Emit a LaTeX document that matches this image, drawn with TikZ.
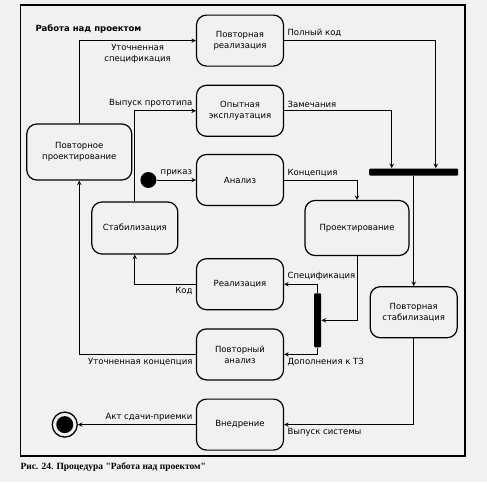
\documentclass[tikz,border=0pt]{standalone}
\usepackage{fontspec}
\setmainfont{DejaVu Sans}
\newfontfamily\captionfont{Liberation Serif}
\usepackage{tikz}
\usetikzlibrary{positioning}
\definecolor{paper}{RGB}{241,241,241}

\begin{document}
\begin{tikzpicture}[x=1pt,y=1pt,>=stealth,line width=1pt,inner sep=3pt,
      font=\fontsize{8.5}{11}\selectfont,
      state node/.style={rectangle,rounded corners=10pt,draw,line width=1.2pt,align=center,
        minimum width=87pt,minimum height=51pt},
      bar node/.style={rectangle,fill,rounded corners=1pt,inner sep=0pt},
      hv path/.style={to path={-| (\tikztotarget) \tikztonodes}},
      vh path/.style={to path={|- (\tikztotarget) \tikztonodes}}]
      \fill[paper] (0,0) rectangle (487,-482);
      \useasboundingbox (0,0) rectangle (487,-482);
      \draw[line width=1.2pt] (20.5,-5) rectangle (465,-456);
      \node[anchor=west,font=\bfseries\fontsize{8.5}{11}\selectfont] (title) at (32,-29) {Работа над проектом};
      \node[anchor=west,font=\captionfont\bfseries\fontsize{9.5}{11}\selectfont] (caption) at (17,-467)
        {Рис. 24. Процедура "Работа над проектом"};

      \node[state node] (anal) at (240,-180) {Анализ};
      \node[state node] (trial) [above=17pt of anal] {Опытная\\эксплуатация};
      \node[state node] (reimpl) [above=18pt of trial] {Повторная\\реализация};
      \node[state node] (impl) [below=52pt of anal] {Реализация};
      \node[state node] (reanal) [below=18pt of impl] {Повторный\\анализ};
      \node[state node] (deploy) [below=18pt of reanal] {Внедрение};
      \node[state node,minimum width=86pt,minimum height=52pt] (stab) [above left=3.5pt and 17.5pt of impl] {Стабилизация};
      \node[state node,minimum width=104pt,minimum height=55pt] (design) [right=126pt of stab] {Проектирование};
      \node[state node,minimum width=105pt,minimum height=56pt] (repdes) [below left=-13.5pt and 63.5pt of trial] {Повторное\\проектирование};
      \node[state node] (restab) [below right=30pt and -40pt of design] {Повторная\\стабилизация};
      \node[bar node,minimum width=89pt,minimum height=7pt] (fork) [above=110pt of restab] {};
      \node[bar node,minimum width=7pt,minimum height=54pt] (join) [below right=-17.5pt and 29.5pt of impl] {};
      \node[circle,fill,minimum size=16pt,inner sep=0pt] (init) [left=39pt of anal] {};
      \node[circle,draw,line width=1.3pt,minimum size=25pt,inner sep=0pt,
        path picture={\fill (path picture bounding box.center) circle (8.5pt);}] (final) [left=118pt of deploy] {};

      \path[->]
        (init) edge node[above] {приказ} (anal)
        (repdes) edge[vh path] node[pos=0.75,below,align=center] {Уточненная\\спецификация} (reimpl)
        (stab) edge[vh path] node[pos=1,above left] {Выпуск прототипа} (trial)
        (reimpl) edge[hv path] node[pos=0,above right] {Полный код} ([xshift=22pt]fork.north)
        (trial) edge[hv path] node[pos=0,above right] {Замечания} ([xshift=-22pt]fork.north)
        (fork) edge (restab)
        (anal) edge[hv path] node[pos=0,above right] {Концепция} (design)
        (design) edge[vh path] (join)
        (join) edge[vh path] node[pos=1,above right] {Спецификация} (impl)
        (join) edge[vh path] node[pos=1,below right] {Дополнения к ТЗ} (reanal)
        (impl) edge[hv path] node[pos=0,below left] {Код} (stab)
        (reanal) edge[hv path] node[pos=0,below left] {Уточненная концепция} (repdes)
        (restab) edge[vh path] node[pos=1,below right] {Выпуск системы} (deploy)
        (deploy) edge node[pos=0,above left] {Акт сдачи-приемки} (final);
\end{tikzpicture}
\end{document}
